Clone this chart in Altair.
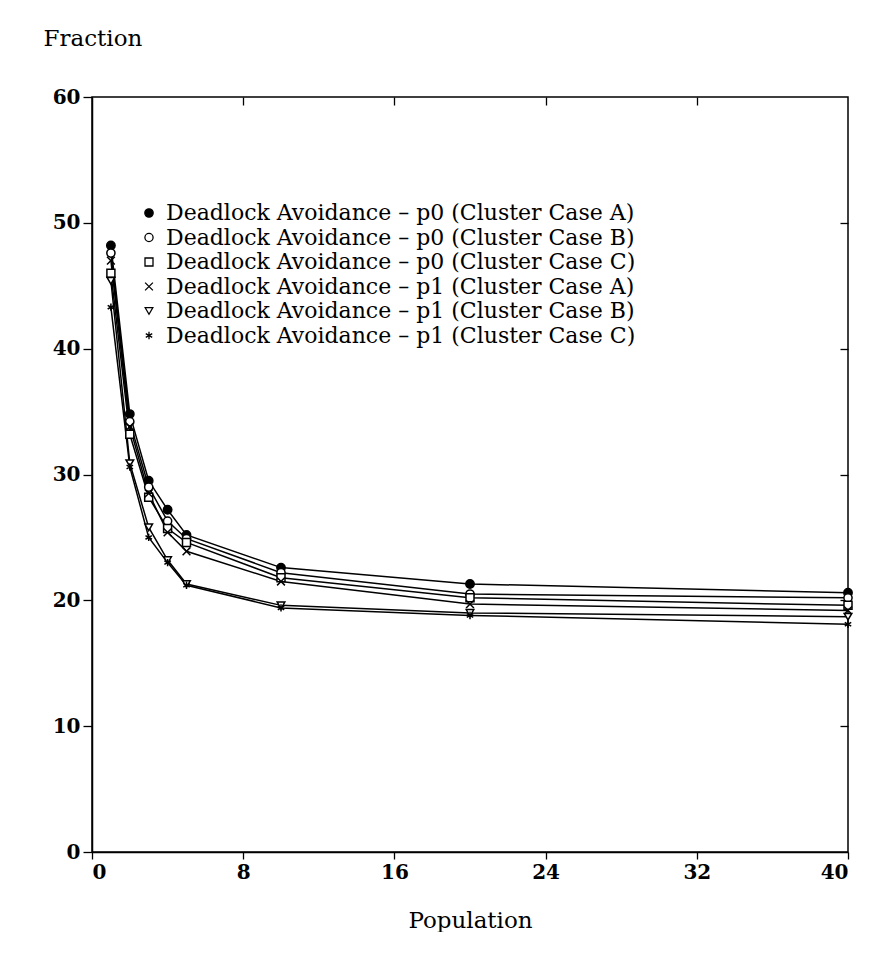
import altair as alt
import pandas as pd

population = [1, 2, 3, 4, 5, 10, 20, 40]
series_names = [
    "Deadlock Avoidance – p0 (Cluster Case A)",
    "Deadlock Avoidance – p0 (Cluster Case B)",
    "Deadlock Avoidance – p0 (Cluster Case C)",
    "Deadlock Avoidance – p1 (Cluster Case A)",
    "Deadlock Avoidance – p1 (Cluster Case B)",
    "Deadlock Avoidance – p1 (Cluster Case C)",
]
p0_a = [48.2, 34.8, 29.5, 27.2, 25.2, 22.6, 21.3, 20.6]
p0_b = [47.6, 34.2, 29.0, 26.3, 24.9, 22.2, 20.5, 20.2]
p0_c = [46.0, 33.2, 28.2, 25.7, 24.6, 21.8, 20.2, 19.6]
p1_a = [47.0, 33.8, 28.5, 25.4, 23.9, 21.5, 19.7, 19.2]
p1_b = [45.4, 30.9, 25.8, 23.2, 21.3, 19.6, 19.0, 18.7]
p1_c = [43.3, 30.6, 25.0, 23.0, 21.2, 19.4, 18.8, 18.1]
all_series = [p0_a, p0_b, p0_c, p1_a, p1_b, p1_c]

x_ticks = [0, 8, 16, 24, 32, 40]
y_ticks = [0, 10, 20, 30, 40, 50, 60]

rows = []
for name, vals in zip(series_names, all_series):
    for x, v in zip(population, vals):
        rows.append({"Population": x, "Fraction": v, "series": name})
df = pd.DataFrame(rows)

X_CROSS = "M-1,-1L1,1M-1,1L1,-1"
ASTER = "M0,-1L0,1M-0.87,-0.5L0.87,0.5M-0.87,0.5L0.87,-0.5"
shapes = ["circle", "circle", "square", X_CROSS, "triangle-down", ASTER]
fills = ["black", "white", "white", "white", "white", "white"]
strokes = ["black"] * 6
sizes = [70, 55, 110, 150, 150, 80]

FONT = "DejaVu Serif"

xscale = alt.Scale(domain=[0, 40], nice=False)
yscale = alt.Scale(domain=[0, 60], nice=False)

base = alt.Chart(df)

lines = base.mark_line(color="black", strokeWidth=1.5).encode(
    x=alt.X("Population:Q", scale=xscale,
            axis=alt.Axis(values=x_ticks, title="Population", orient="bottom",
                          tickSize=7, labelPadding=3, grid=False,
                          titleFontSize=23, titleFont=FONT, titleFontWeight="normal",
                          titlePadding=27)),
    y=alt.Y("Fraction:Q", scale=yscale,
            axis=alt.Axis(values=y_ticks, title="Fraction", orient="left",
                          tickSize=9, labelPadding=3, grid=False,
                          titleAngle=0, titleAlign="left", titleBaseline="alphabetic",
                          titleX=-49, titleY=-52,
                          titleFontSize=23, titleFont=FONT, titleFontWeight="normal")),
    detail="series:N",
)

legend = alt.Legend(
    title=None, orient="none", legendX=46, legendY=105,
    labelFont=FONT, labelFontSize=22, labelColor="black",
    labelLimit=800, rowPadding=2.5, labelOffset=6,
    symbolStrokeColor="black", symbolStrokeWidth=1.3,
)

points = base.mark_point(color="black", strokeWidth=1.5, filled=False, opacity=1).encode(
    x=alt.X("Population:Q", scale=xscale,
            axis=alt.Axis(values=[8, 16, 24, 32], orient="top", labels=False, title=None,
                          domain=False, tickSize=8, offset=-8, grid=False)),
    y=alt.Y("Fraction:Q", scale=yscale,
            axis=alt.Axis(values=[10, 20, 30, 40, 50], orient="right", labels=False, title=None,
                          domain=False, tickSize=8, offset=-8, grid=False)),
    shape=alt.Shape("series:N", scale=alt.Scale(domain=series_names, range=shapes), legend=legend),
    fill=alt.Fill("series:N", scale=alt.Scale(domain=series_names, range=fills), legend=legend),
    stroke=alt.Stroke("series:N", scale=alt.Scale(domain=series_names, range=strokes), legend=legend),
    size=alt.Size("series:N", scale=alt.Scale(domain=series_names, range=sizes), legend=legend),
)

chart = alt.layer(lines, points).resolve_axis(x="independent", y="independent").properties(
    width=756, height=755,
    background="white",
    autosize=alt.AutoSizeParams(type="none"),
    padding={"left": 84, "top": 89, "right": 12, "bottom": 80},
).configure_view(
    stroke="black", strokeWidth=1.5
).configure_axis(
    labelFont=FONT, labelFontSize=20, labelFontWeight="bold", labelColor="black",
    tickColor="black", domainColor="black", tickWidth=1.3, domainWidth=1.5,
    titleColor="black",
)

chart.save("out.html", embed_options={"renderer": "svg", "actions": False})
